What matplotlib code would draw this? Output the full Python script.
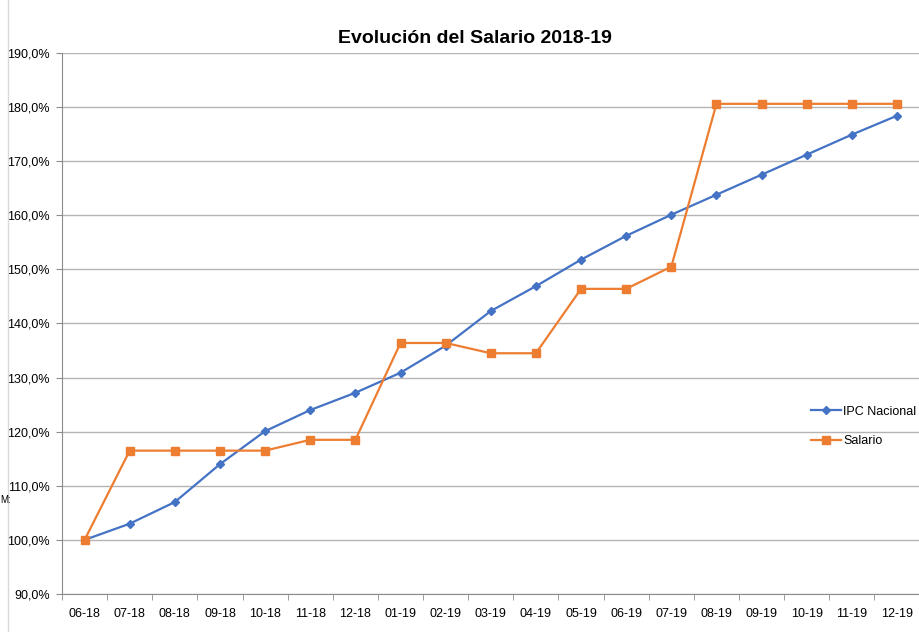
import matplotlib.pyplot as plt
from matplotlib.lines import Line2D
from matplotlib.ticker import FuncFormatter, FixedLocator

plt.rcParams['font.family'] = ['Liberation Sans', 'DejaVu Sans']

meses = ["06-18", "07-18", "08-18", "09-18", "10-18", "11-18", "12-18",
         "01-19", "02-19", "03-19", "04-19", "05-19", "06-19", "07-19",
         "08-19", "09-19", "10-19", "11-19", "12-19"]
ipc = [100.0, 103.0, 107.0, 114.0, 120.1, 124.0, 127.2, 130.9, 135.9, 142.3,
       146.9, 151.8, 156.2, 160.1, 163.8, 167.5, 171.2, 174.9, 178.4]
salario = [100.0, 116.5, 116.5, 116.5, 116.5, 118.5, 118.5, 136.4, 136.4, 134.5,
           134.5, 146.4, 146.4, 150.5, 180.6, 180.6, 180.6, 180.6, 180.6]

fig = plt.figure(figsize=(9.2, 6.32), dpi=100)
ax = fig.add_axes([0.0674, 0.0601, 0.9321, 0.8561])

x = list(range(len(meses)))
ax.plot(x, ipc, color="#4472C4", lw=1.6, marker="D", ms=4, label="IPC Nacional")
ax.plot(x, salario, color="#ED7D31", lw=1.6, marker="s", ms=6, label="Salario")

ax.set_xlim(-0.5, len(meses) - 0.5)
ax.set_ylim(90, 190)
ax.set_yticks(range(90, 191, 10))
ax.yaxis.set_major_formatter(FuncFormatter(lambda v, p: f"{v:.1f}%".replace(".", ",")))
ax.grid(axis="y", color="#b4b4b4", lw=1)
ax.set_axisbelow(True)

ax.set_xticks(x)
ax.set_xticklabels(meses)
ax.xaxis.set_minor_locator(FixedLocator([i + 0.5 for i in range(-1, len(meses))]))
ax.tick_params(axis="x", which="major", length=0, pad=10, labelsize=9)
ax.tick_params(axis="x", which="minor", length=4, color="#8c8c8c")
ax.tick_params(axis="y", length=4, color="#8c8c8c", labelsize=9, pad=5)

for s in ["top", "right"]:
    ax.spines[s].set_visible(False)
ax.spines["left"].set_color("#8c8c8c")
ax.spines["bottom"].set_color("#8c8c8c")

fig.text(0.516, 0.939, "Evolución del Salario 2018-19", fontsize=14,
         fontweight="bold", ha="center", va="center")

ax.legend(loc="center left", bbox_to_anchor=(0.86, 0.31), frameon=False,
          fontsize=9, handlelength=2.4, labelspacing=1.4, handletextpad=0.2)

fig.add_artist(Line2D([0.009, 0.009], [0, 1], color="#d9d9d9", lw=1))
fig.text(0.0, 0.209, "M:", fontsize=7, va="center")

fig.savefig("out.png", dpi=100)
